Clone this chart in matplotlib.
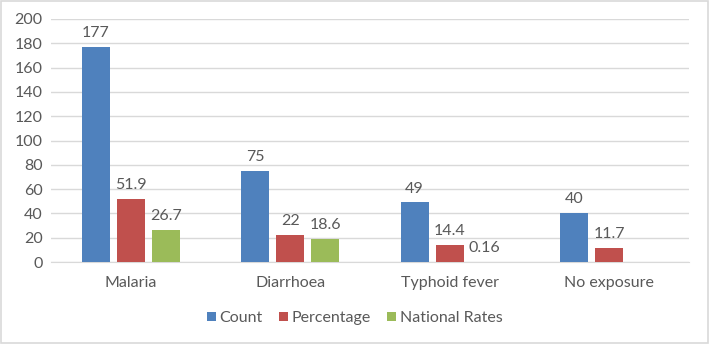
import numpy as np
import matplotlib.pyplot as plt
from matplotlib.patches import Rectangle

categories = ["Malaria", "Diarrhoea", "Typhoid fever", "No exposure"]
count = [177, 75, 49, 40]
percentage = [51.9, 22, 14.4, 11.7]
national = [26.7, 18.6, 0.16, None]
count_labels = ["177", "75", "49", "40"]
pct_labels = ["51.9", "22", "14.4", "11.7"]
nat_labels = ["26.7", "18.6", "0.16", ""]

plt.rcParams["font.family"] = ["Lato", "DejaVu Sans"]
txt = "#595959"
fs = 11.5

fig = plt.figure(figsize=(7.09, 3.44), dpi=100)
ax = fig.add_axes([51 / 709, 1 - 262 / 344, 638 / 709, 243 / 344])

x = np.arange(len(categories))
w = 0.176
step = 0.22
series = [
    ("Count", count, count_labels, "#4F81BD"),
    ("Percentage", percentage, pct_labels, "#C0504D"),
    ("National Rates", national, nat_labels, "#9BBB59"),
]
for i, (name, vals, labs, col) in enumerate(series):
    xs = np.array([xx for xx, v in zip(x, vals) if v is not None])
    vs = [v for v in vals if v is not None]
    ls = [l for l, v in zip(labs, vals) if v is not None]
    bars = ax.bar(xs + (i - 1) * step, vs, width=w, color=col, label=name, zorder=3)
    ax.bar_label(bars, labels=ls, padding=5, fontsize=fs, color=txt)

ax.set_xlim(-0.5, 3.5)
ax.set_ylim(0, 200)
ax.set_yticks(range(0, 201, 20))
ax.set_xticks(x)
ax.set_xticklabels(categories)
ax.tick_params(length=0, labelsize=fs, labelcolor=txt)
ax.tick_params(axis="x", pad=10)
ax.tick_params(axis="y", pad=6)
ax.grid(axis="y", color="#D9D9D9", linewidth=1, zorder=0)
for s in ["top", "right", "left"]:
    ax.spines[s].set_visible(False)
ax.spines["bottom"].set_color("#D9D9D9")

fig.legend(loc="center", bbox_to_anchor=(0.5, 1 - 318 / 344), ncol=3, frameon=False,
           fontsize=fs, labelcolor=txt, handlelength=0.55, handleheight=0.55,
           handletextpad=0.25, columnspacing=1.0)

fig.patches.append(Rectangle((0.002, 0.003), 0.996, 0.994, transform=fig.transFigure,
                             fill=False, edgecolor="#D9D9D9", linewidth=1.2))

fig.savefig("out.png", dpi=100)
